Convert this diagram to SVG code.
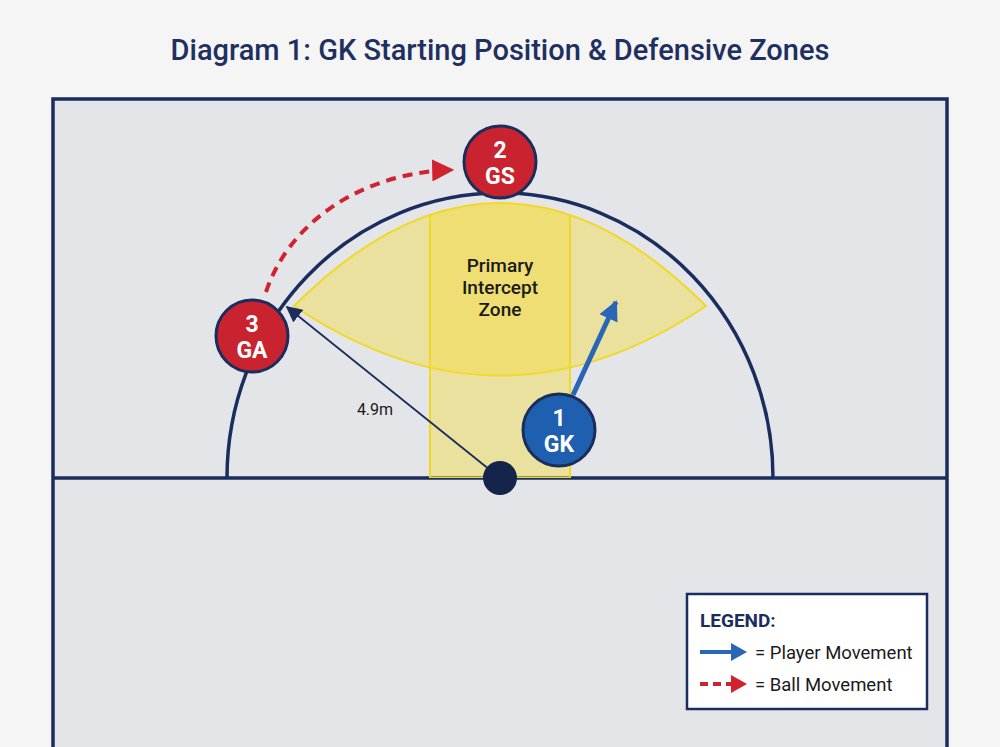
<svg xmlns="http://www.w3.org/2000/svg" width="1000" height="747" viewBox="0 0 1000 747">
<style>
.court{fill:#e4e5e9;stroke:#1b2d5c;stroke-width:3.5}
.line{fill:none;stroke:#1b2d5c;stroke-width:3.5}
.red{fill:#c8232f;stroke:#1b2d5c;stroke-width:3}
.blue{fill:#1f5fb0;stroke:#1b2d5c;stroke-width:3}
.nt{font-family:Roboto,"Liberation Sans",sans-serif;font-weight:700;font-size:23px;fill:#fff;text-anchor:middle}
.zone{fill:#f2dc3a;fill-opacity:0.42;stroke:#f0d824;stroke-width:2}
.lbl{font-family:Roboto,"Liberation Sans",sans-serif;font-size:19px;fill:#1a1a1a;text-anchor:middle;font-weight:500}
.leg{font-family:Roboto,"Liberation Sans",sans-serif;font-size:18.5px;fill:#1a1a1a}
</style>
<defs>
<marker id="ab" viewBox="0 0 10 10" refX="9" refY="5" markerWidth="4" markerHeight="4" orient="auto" markerUnits="strokeWidth"><path d="M0,0 L10,5 L0,10 Z" fill="#2a66b8"/></marker>
<marker id="ar" viewBox="0 0 10 10" refX="9" refY="5" markerWidth="5.5" markerHeight="5.5" orient="auto" markerUnits="strokeWidth"><path d="M0,0 L10,5 L0,10 Z" fill="#d0232f"/></marker>
<marker id="an" viewBox="0 0 10 10" refX="9" refY="5" markerWidth="9" markerHeight="9" orient="auto" markerUnits="strokeWidth"><path d="M0,0 L10,5 L0,10 Z" fill="#1b2d5c"/></marker>
<clipPath id="top"><path d="M294,306 Q500,100 706,306 L706,478 L294,478 Z"/></clipPath>
</defs>
<rect width="1000" height="747" fill="#f5f5f6"/>
<text x="500" y="60" text-anchor="middle" font-family="Roboto,'Liberation Sans',sans-serif" font-weight="500" font-size="29" fill="#1f3060">Diagram 1: GK Starting Position &amp; Defensive Zones</text>
<g id="court">
<rect class="court" x="53" y="99" width="894" height="700"/>
<line class="line" x1="53" y1="478" x2="947" y2="478"/>
<path class="line" d="M227,478 A273,285 0 0 1 773,478"/>
</g>
<g id="zone">
<path class="zone" d="M294,306 Q500,100 706,306 Q500,445 294,306 Z"/>
<rect class="zone" x="430" y="190" width="140" height="288" clip-path="url(#top)"/>
<text class="lbl" x="500" y="272">Primary</text>
<text class="lbl" x="500" y="294">Intercept</text>
<text class="lbl" x="500" y="316">Zone</text>
</g>
<g id="connectors">
<line x1="500" y1="478" x2="287" y2="307" stroke="#1b2d5c" stroke-width="1.8" marker-end="url(#an)"/>
<text x="375" y="415" text-anchor="middle" font-family="Roboto,'Liberation Sans',sans-serif" font-size="16" fill="#1a1a1a">4.9m</text>
<path d="M266,292 C290,220 365,172 452,170" fill="none" stroke="#d0232f" stroke-width="4" stroke-dasharray="10 7" marker-end="url(#ar)"/>
<line x1="573" y1="395" x2="616" y2="302" stroke="#2a66b8" stroke-width="5" marker-end="url(#ab)"/>
</g>
<g id="center"><circle cx="500" cy="478" r="17" fill="#14244a"/></g>
<g id="gs"><circle class="red" cx="500" cy="162" r="36"/><text class="nt" x="500" y="158">2</text><text class="nt" x="500" y="184">GS</text></g>
<g id="ga"><circle class="red" cx="252" cy="336" r="36"/><text class="nt" x="252" y="332">3</text><text class="nt" x="252" y="358">GA</text></g>
<g id="gk"><circle class="blue" cx="559" cy="430" r="36"/><text class="nt" x="559" y="426">1</text><text class="nt" x="559" y="452">GK</text></g>
<g id="legend">
<rect x="687" y="594" width="240" height="115" fill="#fff" stroke="#1b2d5c" stroke-width="2.5"/>
<text x="700" y="627" font-family="Roboto,'Liberation Sans',sans-serif" font-weight="700" font-size="19" fill="#1b2d5c">LEGEND:</text>
<line x1="700" y1="652" x2="733" y2="652" stroke="#2a66b8" stroke-width="4"/>
<path d="M731,643 L747,652 L731,661 Z" fill="#2a66b8"/>
<text class="leg" x="755" y="659">= Player Movement</text>
<line x1="700" y1="684" x2="731" y2="684" stroke="#d0232f" stroke-width="4" stroke-dasharray="8 5"/>
<path d="M731,675 L747,684 L731,693 Z" fill="#d0232f"/>
<text class="leg" x="755" y="691">= Ball Movement</text>
</g>
</svg>
